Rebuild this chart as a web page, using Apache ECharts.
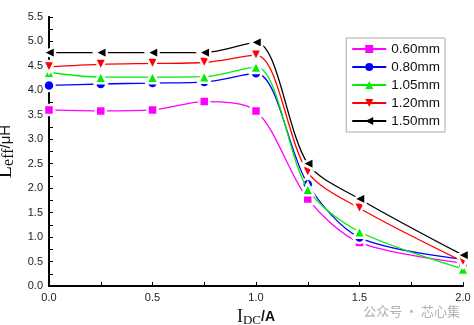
<!DOCTYPE html>
<html><head><meta charset="utf-8">
<script src="https://cdn.jsdelivr.net/npm/echarts@6/dist/echarts.min.js"></script>
<style>html,body{margin:0;padding:0;background:#fff}#c{width:474px;height:325px}</style>
</head><body><div id="c"></div>
<script>
const xValues = [0, 0.25, 0.5, 0.75, 1.0, 1.25, 1.5, 2.0];
const seriesNames = ['0.60mm', '0.80mm', '1.05mm', '1.20mm', '1.50mm'];
const s060 = [3.60, 3.58, 3.60, 3.77, 3.58, 1.78, 0.89, 0.47];
const s080 = [4.10, 4.13, 4.15, 4.17, 4.35, 2.08, 0.99, 0.55];
const s105 = [4.37, 4.27, 4.27, 4.28, 4.48, 1.98, 1.11, 0.35];
const s120 = [4.48, 4.53, 4.55, 4.57, 4.72, 2.33, 1.59, 0.50];
const s150 = [4.77, 4.77, 4.77, 4.77, 4.98, 2.50, 1.78, 0.63];
const xTickLabels = ['0.0', '0.5', '1.0', '1.5', '2.0'];

const allValues = [s060, s080, s105, s120, s150];
const colors = ['#ff00ff', '#0000ff', '#00ee00', '#ff0000', '#000000'];
const symbols = ['rect', 'circle', 'triangle', 'triangle', 'triangle'];
const rotates = [0, 0, 0, 180, 90];
const sizes = [10, 11, 12, 12, 12];

const series = allValues.map((vals, i) => ({
  name: seriesNames[i],
  type: 'line',
  smooth: 0.3,
  data: xValues.map((x, j) => [x, vals[j]]),
  symbol: symbols[i],
  symbolRotate: rotates[i],
  symbolSize: sizes[i],
  showAllSymbol: true,
  lineStyle: { color: colors[i], width: 1.3 },
  itemStyle: { color: colors[i], borderColor: '#fff', borderWidth: 2.5 },
  emphasis: { disabled: true },
  z: 2 + i
}));

const chart = echarts.init(document.getElementById('c'), null, { renderer: 'canvas' });
chart.setOption({
  animation: false,
  backgroundColor: '#fff',
  grid: { left: 49, right: 11, top: 17, bottom: 39, containLabel: false, outerBoundsMode: 'none' },
  legend: {
    orient: 'vertical',
    right: 29, top: 38,
    data: seriesNames.map((n, i) => ({ name: n, itemStyle: { borderWidth: 0 } })),
    itemWidth: 34, itemHeight: 10, itemGap: 4,
    padding: [4, 5, 4, 5],
    borderColor: '#aaa', borderWidth: 1, borderRadius: 0,
    backgroundColor: '#fff',
    textStyle: { fontFamily: 'Liberation Sans, Arial', fontSize: 13.5, color: '#111' }
  },
  xAxis: {
    type: 'value', min: 0, max: 2, interval: 0.5,
    axisLine: { show: true, onZero: false, lineStyle: { color: '#000', width: 2 } },
    axisTick: { show: true, inside: true, length: 4, lineStyle: { color: '#000', width: 1 } },
    minorTick: { show: true, splitNumber: 2, length: 4, lineStyle: { color: '#000', width: 1 } },
    splitLine: { show: false },
    axisLabel: { color: '#222', fontFamily: 'Liberation Sans, Arial', fontSize: 11, margin: 6,
      formatter: v => xTickLabels[Math.round(v / 0.5)] },
    name: '{i|I}{s|DC}{a|/A}',
    nameLocation: 'middle', nameGap: 21,
    nameTextStyle: {
      rich: {
        i: { fontFamily: 'Liberation Serif, Times New Roman', fontSize: 18, color: '#111' },
        s: { fontFamily: 'Liberation Serif, Times New Roman', fontSize: 13, color: '#111', padding: [7, 0, 0, 0] },
        a: { fontFamily: 'Liberation Sans, Arial', fontSize: 14, fontWeight: 'bold', color: '#111' }
      }
    }
  },
  yAxis: [{
    type: 'value', min: 0, max: 5.5, interval: 0.5,
    axisLine: { show: true, onZero: false, lineStyle: { color: '#000', width: 2 } },
    axisTick: { show: true, inside: true, length: 4, lineStyle: { color: '#000', width: 1 } },
    minorTick: { show: true, splitNumber: 2, length: 4, lineStyle: { color: '#000', width: 1 } },
    splitLine: { show: false },
    axisLabel: { color: '#222', fontFamily: 'Liberation Sans, Arial', fontSize: 11, margin: 6,
      formatter: v => v.toFixed(1) },
    name: '{l|L}{s|eff}{u|/μH}',
    nameLocation: 'middle', nameGap: 20, nameRotate: 90,
    nameTextStyle: {
      rich: {
        l: { fontFamily: 'Liberation Serif, Times New Roman', fontSize: 20, color: '#111' },
        s: { fontFamily: 'Liberation Serif, Times New Roman', fontSize: 16, color: '#111', padding: [6, 0, 0, 0] },
        u: { fontFamily: 'Liberation Sans, Arial', fontSize: 15, color: '#111' }
      }
    }
  }, {
    type: 'value', min: 0, max: 5.5, position: 'right',
    axisLine: { show: true, lineStyle: { color: '#000', width: 2 } },
    axisTick: { show: false }, axisLabel: { show: false }, splitLine: { show: false }
  }],
  graphic: [{
    type: 'text', right: 14, bottom: 7,
    style: { text: '公众号 · 芯心集', fill: '#b0b0b0', font: '13px "Noto Sans CJK SC"' }
  }],
  series: series
});
</script></body></html>
